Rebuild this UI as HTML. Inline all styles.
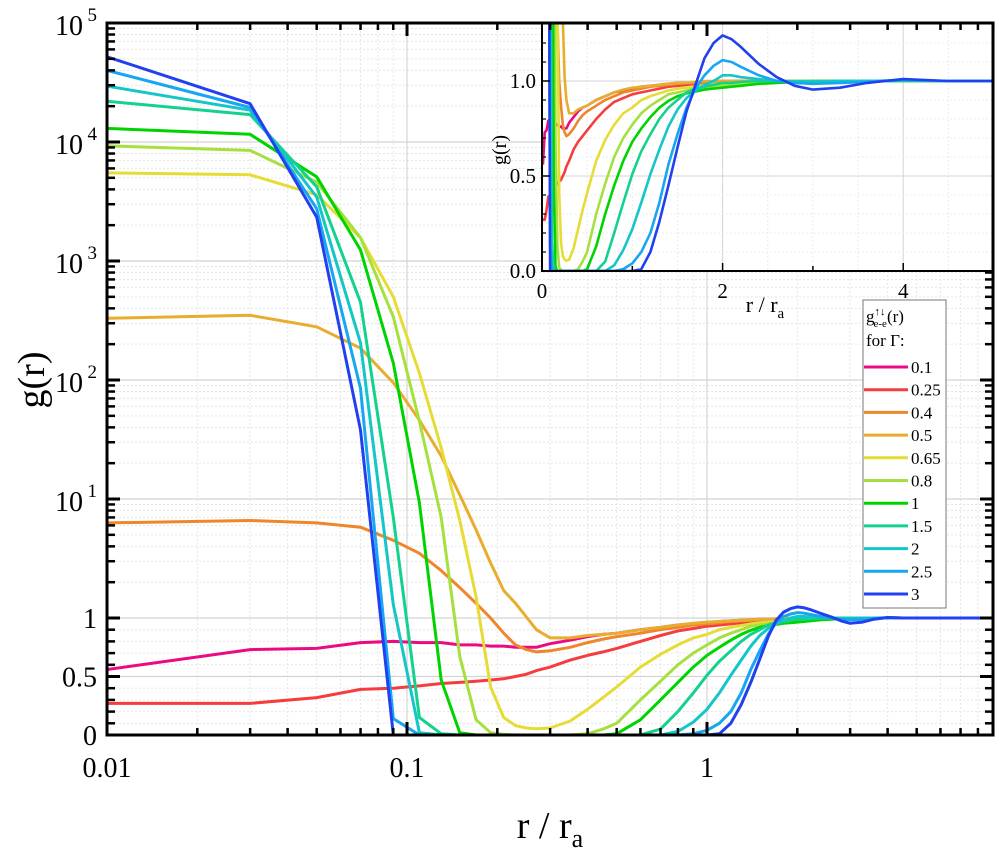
<!DOCTYPE html>
<html><head><meta charset="utf-8"><style>
html,body{margin:0;padding:0;background:#fff;}
svg{display:block;font-family:"Liberation Serif",serif;}
</style></head><body>
<svg id="chart" width="997" height="852" viewBox="0 0 997 852" xmlns="http://www.w3.org/2000/svg">
<defs>
<clipPath id="mainClip"><rect x="107" y="23" width="886" height="712"/></clipPath>
<clipPath id="insetClip"><rect x="542" y="24" width="451" height="247"/></clipPath>
</defs>
<g id="mainGrid"></g>
<g id="mainSeries" clip-path="url(#mainClip)"></g>
<g id="mainAxes"></g>
<g id="inset"></g>
<g id="legend"></g>
<text x="0" y="0" font-size="38" text-anchor="middle" transform="translate(44,380) rotate(-90)">g(r)</text>
<text x="550" y="838" font-size="38" text-anchor="middle">r / r<tspan font-size="26" dy="9">a</tspan></text>
</svg>
<script>
const radii = [0.01,0.03,0.05,0.07,0.09, 0.11,0.13,0.15,0.17,0.19, 0.21,0.23,0.25,0.27,0.3, 0.35,0.4,0.45,0.5,0.6, 0.7,0.8,0.9,1.0,1.1, 1.2,1.3,1.4,1.5,1.6, 1.7,1.8,1.9,2.0,2.1, 2.2,2.4,2.6,2.8,3.0, 3.3,3.6,4.0,4.5,5.0, 6,7,8,9];
const gammaLabels = ["0.1","0.25","0.4","0.5","0.65","0.8","1","1.5","2","2.5","3"];
const seriesColors = ["#ec0a82","#f53d3d","#f0862c","#e8ad2e","#e6dc36","#a6e03e","#00d400","#14d28e","#14c6c8","#16a6f2","#2140f0"];
const g01 = [0.56,0.73,0.74,0.79,0.80, 0.79,0.79,0.77,0.77,0.76, 0.76,0.75,0.75,0.75,0.78, 0.81,0.84,0.86,0.87,0.90, 0.92,0.94,0.95,0.96,0.97, 0.975,0.98,0.985,0.99,0.99, 0.99,0.995,0.995,1,1, 1,1,1,1,1, 1,1,1,1,1, 1,1,1,1];
const g025 = [0.27,0.27,0.32,0.39,0.40, 0.42,0.44,0.45,0.46,0.47, 0.48,0.50,0.52,0.55,0.58, 0.64,0.68,0.71,0.74,0.80, 0.85,0.89,0.91,0.93,0.94, 0.95,0.96,0.97,0.975,0.98, 0.985,0.99,0.99,0.995,1, 1,1,1,1,1, 1,1,1,1,1, 1,1,1,1];
const g04 = [6.3,6.6,6.3,5.8,4.5, 3.5,2.5,1.8,1.33,1.0, 0.87,0.77,0.73,0.71,0.72, 0.75,0.79,0.82,0.84,0.87, 0.90,0.92,0.94,0.95,0.96, 0.97,0.975,0.98,0.985,0.99, 0.99,0.995,1,1,1, 1,1,1,1,1, 1,1,1,1,1, 1,1,1,1];
const g05 = [330,350,280,185,95, 46,23,10.8,5.5,2.9, 1.7,1.33,1.02,0.9,0.83, 0.83,0.85,0.86,0.87,0.90, 0.92,0.94,0.955,0.965,0.97, 0.975,0.98,0.985,0.99,0.99, 0.995,1,1,1,1, 1,1,1,1,1, 1,1,1,1,1, 1,1,1,1];
const g065 = [5500,5300,3600,1570,500, 114,27,6.6,1.5,0.41, 0.15,0.08,0.06,0.054,0.06, 0.12,0.22,0.32,0.41,0.58, 0.69,0.77,0.83,0.86,0.90, 0.92,0.935,0.95,0.96,0.965, 0.97,0.98,0.985,0.985,0.99, 0.99,0.995,1,1,1, 1,1,1,1,1, 1,1,1,1];
const g08 = [9300,8500,4600,1570,340, 45,7,0.67,0.13,0.02, 0.005,0,0,0,0, 0,0.01,0.05,0.1,0.3, 0.46,0.6,0.7,0.77,0.83, 0.87,0.9,0.93,0.94,0.95, 0.96,0.965,0.97,0.975,0.98, 0.985,0.99,0.995,1,1, 1,1,1,1,1, 1,1,1,1];
const g1 = [13000,11600,5100,1240,139, 9.3,0.47,0.02,0,0, 0,0,0,0,0, 0,0,0,0.01,0.13, 0.3,0.45,0.58,0.68,0.75, 0.81,0.86,0.895,0.92,0.935, 0.945,0.955,0.96,0.965,0.97, 0.975,0.985,0.99,0.995,1, 1,1,1,1,1, 1,1,1,1];
const g15 = [22000,17000,4200,450,7, 0.15,0.01,0,0,0, 0,0,0,0,0, 0,0,0,0,0, 0.05,0.2,0.36,0.51,0.63, 0.72,0.8,0.86,0.9,0.94, 0.96,0.97,0.98,0.99,0.99, 0.995,1,1,1,1, 1,1,1,1,1, 1,1,1,1];
const g2 = [29500,18500,3450,205,1.3, 0.02,0,0,0,0, 0,0,0,0,0, 0,0,0,0,0, 0,0.03,0.11,0.22,0.36, 0.51,0.64,0.76,0.85,0.91, 0.95,0.98,1.0,1.03,1.03, 1.02,1.01,1.0,0.995,0.995, 1,1,1.005,1,1, 1,1,1,1];
const g25 = [40000,19500,2750,85,0.14, 0,0,0,0,0, 0,0,0,0,0, 0,0,0,0,0, 0,0,0.01,0.04,0.1, 0.2,0.36,0.56,0.72,0.86, 0.96,1.03,1.08,1.11,1.1, 1.075,1.03,1.0,0.99,0.985, 0.99,0.995,1.005,1,1, 1,1,1,1];
const g3 = [52000,21000,2340,38,0, 0,0,0,0,0, 0,0,0,0,0, 0,0,0,0,0, 0,0,0,0,0.01, 0.1,0.26,0.45,0.65,0.84, 0.98,1.12,1.2,1.24,1.22, 1.18,1.09,1.02,0.975,0.955, 0.965,0.99,1.01,1,1, 1,1,1,1];
const seriesValues = [g01,g025,g04,g05,g065,g08,g1,g15,g2,g25,g3];
const xTickValues = [0.01,0.1,1];
const xTickLabels = ["0.01","0.1","1"];
const yTickLinear = [0,0.5,1];
const yTickLinearLabels = ["0","0.5","1"];
const yTickExp = [1,2,3,4,5];
const insetXTicks = [0,2,4];
const insetYTicks = [0,0.5,1.0];
const insetYTickLabels = ["0.0","0.5","1.0"];

const NS="http://www.w3.org/2000/svg";
function mk(tag, attrs, parent){const e=document.createElementNS(NS,tag);for(const k in attrs)e.setAttribute(k,attrs[k]);parent.appendChild(e);return e;}
// main axes
const L=107,R=993,T=23,B=735;
function X(r){return L+300*Math.log10(r/0.01);}
function Y(v){return v<=1? B-v*117 : 618-Math.log10(v)*119;}
// inset axes
const IL=542,IR=993,IT=24,IB=271;
function IX(r){return IL+90.3*r;}
function IY(v){return IB-190*v;}

const grid=document.getElementById('mainGrid');
const axes=document.getElementById('mainAxes');
// minor gridlines/ticks x
const xMinor=[];
for(let d=-2;d<=0;d++){for(let m=2;m<=9;m++){const v=m*Math.pow(10,d);if(v<=9)xMinor.push(v);}}
xMinor.forEach(v=>{const x=X(v);
 mk('line',{x1:x,x2:x,y1:T,y2:B,stroke:'#e6e6e6','stroke-width':1,'stroke-dasharray':'2,2'},grid);
 let t=mk('line',{x1:x,x2:x,y1:B,y2:B-7,stroke:'#000','stroke-width':2.5},axes);
 
 mk('line',{x1:x,x2:x,y1:T,y2:T+7,stroke:'#000','stroke-width':2.5},axes);
});
// minor y
const yMinor=[];
for(let i=1;i<10;i++){if(i!==5)yMinor.push(i/10);}
for(let d=0;d<5;d++){for(let m=2;m<=9;m++)yMinor.push(m*Math.pow(10,d));}
yMinor.forEach(v=>{const y=Y(v);
 mk('line',{x1:L,x2:R,y1:y,y2:y,stroke:'#e6e6e6','stroke-width':1,'stroke-dasharray':'2,2'},grid);
 mk('line',{x1:L,x2:L+8,y1:y,y2:y,stroke:'#000','stroke-width':2.5},axes);
 mk('line',{x1:R,x2:R-8,y1:y,y2:y,stroke:'#000','stroke-width':2.5},axes);
});
// major
xTickValues.forEach((v,i)=>{const x=X(v);
 if(i>0)mk('line',{x1:x,x2:x,y1:T,y2:B,stroke:'#d4d4d4','stroke-width':1.2},grid);
 mk('line',{x1:x,x2:x,y1:B,y2:B-13,stroke:'#000','stroke-width':3},axes);
 mk('line',{x1:x,x2:x,y1:T,y2:T+13,stroke:'#000','stroke-width':3},axes);
 const t=mk('text',{x:x,y:B+42,'font-size':28,'text-anchor':'middle'},axes);
 t.textContent=xTickLabels[i];
 
});
yTickLinear.forEach((v,i)=>{const y=Y(v);
 if(v>0)mk('line',{x1:L,x2:R,y1:y,y2:y,stroke:'#d4d4d4','stroke-width':1.2},grid);
 mk('line',{x1:L,x2:L+13,y1:y,y2:y,stroke:'#000','stroke-width':3},axes);
 mk('line',{x1:R,x2:R-13,y1:y,y2:y,stroke:'#000','stroke-width':3},axes);
 const t=mk('text',{x:L-10,y:y+10,'font-size':28,'text-anchor':'end'},axes);
 t.textContent=yTickLinearLabels[i];
 
});
yTickExp.forEach(e=>{const y=Y(Math.pow(10,e));
 mk('line',{x1:L,x2:R,y1:y,y2:y,stroke:'#d4d4d4','stroke-width':1.2},grid);
 mk('line',{x1:L,x2:L+13,y1:y,y2:y,stroke:'#000','stroke-width':3},axes);
 mk('line',{x1:R,x2:R-13,y1:y,y2:y,stroke:'#000','stroke-width':3},axes);
 const t=mk('text',{x:L-24,y:y+12,'font-size':28,'text-anchor':'end'},axes);
 t.textContent='10';
 
 const s=mk('text',{x:L-10,y:y-2,'font-size':19,'text-anchor':'end'},axes);
 s.textContent=String(e);
});
mk('rect',{x:L,y:T,width:R-L,height:B-T,fill:'none',stroke:'#000','stroke-width':3},axes);

// main series
const ms=document.getElementById('mainSeries');
seriesValues.forEach((vals,si)=>{
 const pts=radii.map((r,i)=>X(r).toFixed(1)+','+Y(vals[i]).toFixed(1)).join(' ');
 const p=mk('polyline',{points:pts,fill:'none',stroke:seriesColors[si],'stroke-width':3,'stroke-linejoin':'round'},ms);
 
 
});

// inset
const ins=document.getElementById('inset');
mk('rect',{x:IL,y:IT,width:IR-IL,height:IB-IT,fill:'#fff'},ins);
for(let r=0.5;r<5;r+=0.5){const x=IX(r);mk('line',{x1:x,x2:x,y1:IT,y2:IB,stroke:(r%2===0)?'#d4d4d4':'#ececec','stroke-width':1,'stroke-dasharray':(r%2===0)?'':'2,2'},ins);}
for(let k=1;k<=12;k++){const v=k*0.1;const y=IY(v);const maj=(k===5||k===10);mk('line',{x1:IL,x2:IR,y1:y,y2:y,stroke:maj?'#d4d4d4':'#ececec','stroke-width':1,'stroke-dasharray':maj?'':'2,2'},ins);}
const ig=mk('g',{'clip-path':'url(#insetClip)'},ins);
seriesValues.forEach((vals,si)=>{
 const pts=[];
 radii.forEach((r,i)=>{if(r<=5.2)pts.push(IX(r).toFixed(1)+','+IY(Math.min(vals[i],3)).toFixed(1));});
 const p=mk('polyline',{points:pts.join(' '),fill:'none',stroke:seriesColors[si],'stroke-width':2.6,'stroke-linejoin':'round'},ig);
 
 
});
for(let r=1;r<5;r+=2){const x=IX(r);mk('line',{x1:x,x2:x,y1:IB,y2:IB-5,stroke:'#000','stroke-width':1.5},ins);}
insetXTicks.forEach(v=>{const x=IX(v);
 mk('line',{x1:x,x2:x,y1:IB,y2:IB-8,stroke:'#000','stroke-width':1.5},ins);
 const t=mk('text',{x:x,y:IB+27,'font-size':21,'text-anchor':'middle'},ins);
 t.textContent=String(v);
 
});
for(let k=1;k<=12;k++){if(k===5||k===10)continue;const y=IY(k*0.1);mk('line',{x1:IL,x2:IL+4,y1:y,y2:y,stroke:'#000','stroke-width':1.2},ins);}
insetYTicks.forEach((v,i)=>{const y=IY(v);
 mk('line',{x1:IL,x2:IL+8,y1:y,y2:y,stroke:'#000','stroke-width':1.5},ins);
 const t=mk('text',{x:IL-6,y:y+7,'font-size':21,'text-anchor':'end'},ins);
 t.textContent=insetYTickLabels[i];
 
});
mk('polyline',{points:`${IL},${IT} ${IL},${IB} ${IR},${IB}`,fill:'none',stroke:'#000','stroke-width':2},ins);
const ixt=mk('text',{x:765,y:312,'font-size':22,'text-anchor':'middle'},ins);

ixt.innerHTML='r / r<tspan font-size="15" dy="6">a</tspan>';
const iyt=mk('text',{x:0,y:0,'font-size':20,'text-anchor':'middle',transform:'translate(506,150) rotate(-90)'},ins);

iyt.textContent='g(r)';
// redraw main top/right axis border over inset
mk('line',{x1:IL-2,x2:R+1.5,y1:T,y2:T,stroke:'#000','stroke-width':3},ins);
mk('line',{x1:R,x2:R,y1:T,y2:IB+2,stroke:'#000','stroke-width':3},ins);
xMinor.forEach(v=>{const x=X(v);if(x>IL)mk('line',{x1:x,x2:x,y1:T,y2:T+7,stroke:'#000','stroke-width':2.5},ins);});
xTickValues.forEach(v=>{const x=X(v);if(x>IL)mk('line',{x1:x,x2:x,y1:T,y2:T+13,stroke:'#000','stroke-width':3},ins);});

// legend
const lg=document.getElementById('legend');
mk('rect',{x:863,y:300,width:83,height:308,fill:'#fff',stroke:'#777','stroke-width':1},lg);
const lt=mk('text',{x:866,y:322,'font-size':17},lg);

lt.innerHTML='g<tspan font-size="11" dy="-7">↑↓</tspan><tspan font-size="11" dx="-12" dy="12">e-e</tspan><tspan dy="-5">(r)</tspan>';
const lf=mk('text',{x:866,y:346,'font-size':17},lg);
lf.textContent='for Γ:';

gammaLabels.forEach((lab,i)=>{const y=367+i*22.7;
 const g=mk('g',{},lg);
 
 
 mk('line',{x1:864,x2:908,y1:y,y2:y,stroke:seriesColors[i],'stroke-width':3},g);
 const t=mk('text',{x:911,y:y+6,'font-size':17},g);
 t.textContent=lab;
});
</script>
</body></html>
